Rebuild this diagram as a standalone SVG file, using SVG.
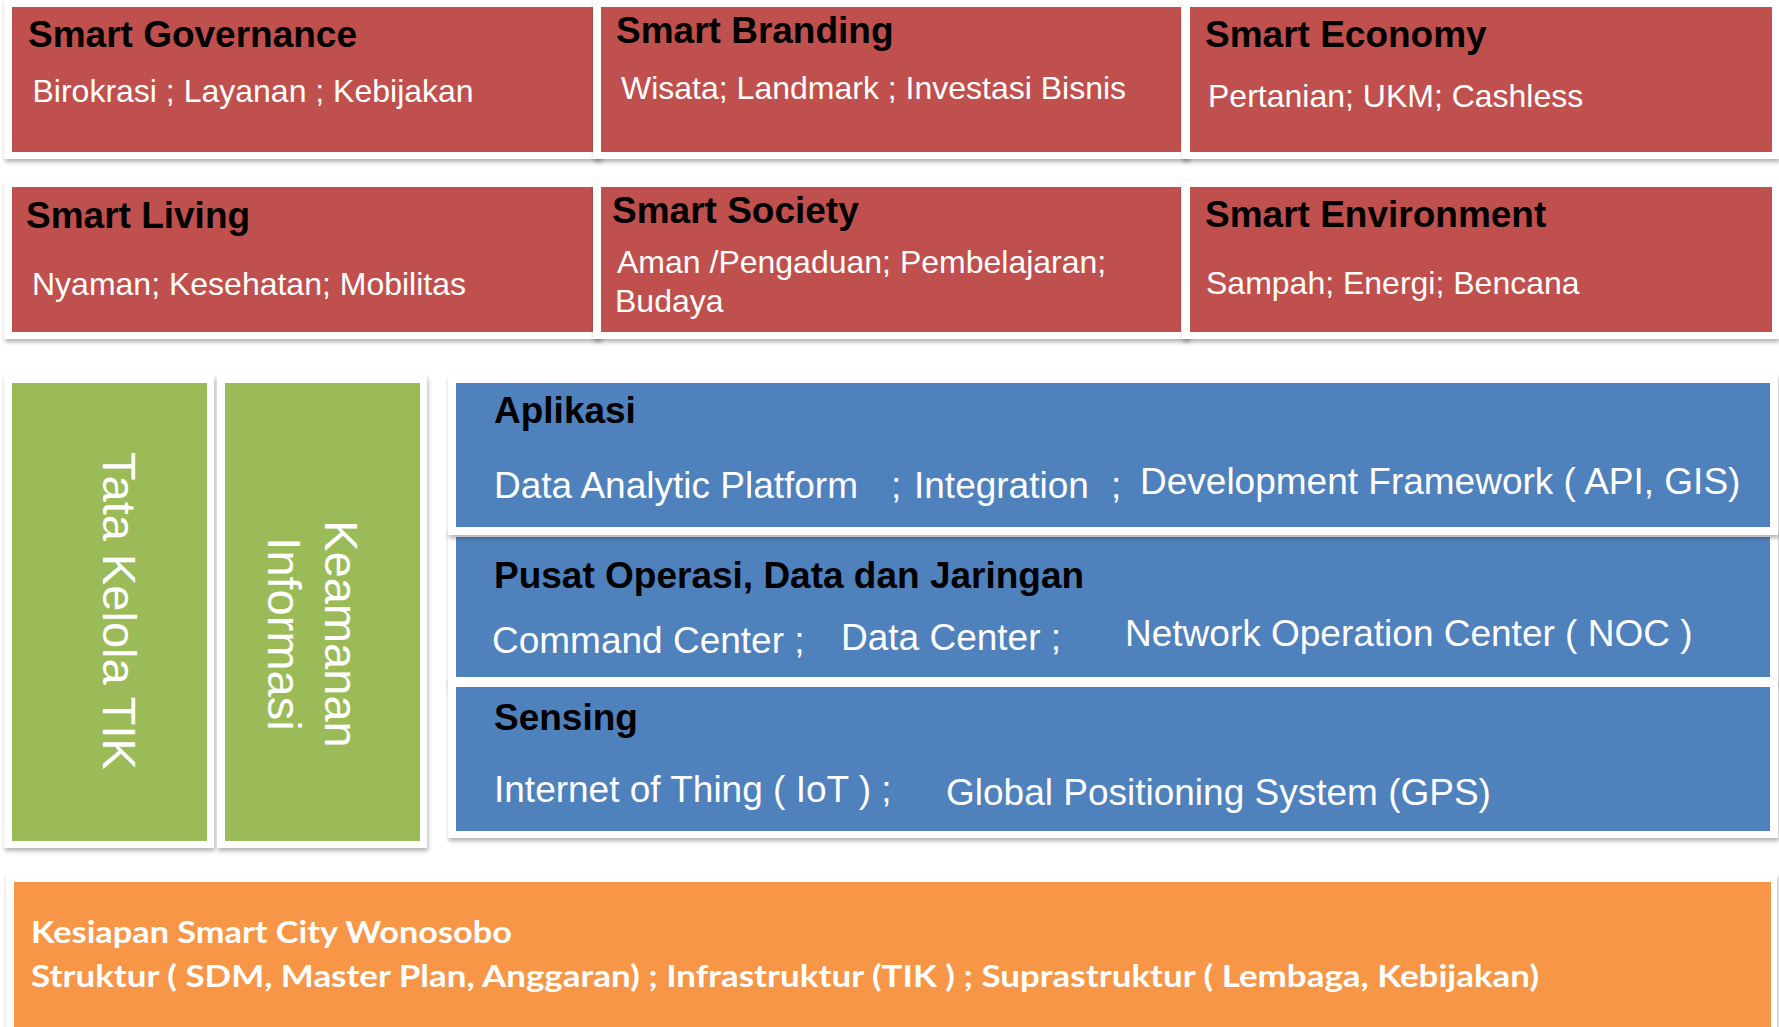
<svg xmlns="http://www.w3.org/2000/svg" width="1779" height="1027" viewBox="0 0 1779 1027">
<defs>
<filter id="sh" x="-5%" y="-10%" width="110%" height="130%">
<feDropShadow dx="1" dy="3" stdDeviation="2" flood-color="#000" flood-opacity="0.3"/>
</filter>
</defs>
<style>
.frame{fill:#ffffff;filter:url(#sh)}
.red{fill:#C0504D}
.green{fill:#9BBB59}
.blue{fill:#4F81BD}
.orange{fill:#F79646}
.title{font-family:"Liberation Sans",Arial,sans-serif;font-weight:bold;font-size:37px;fill:#000}
.item{font-family:"Liberation Sans",Arial,sans-serif;font-size:32px;fill:#fff}
.bitem{font-family:"Liberation Sans",Arial,sans-serif;font-size:37px;fill:#fff}
.vert{font-family:"Liberation Sans",Arial,sans-serif;font-size:47px;fill:#fff;text-anchor:middle}
.otext{font-family:Lato,"Open Sans",sans-serif;font-weight:bold;font-size:31px;fill:#fff}
</style>
<rect width="1779" height="1027" fill="#ffffff"/>

<g id="smart-governance">
<rect class="frame" x="4" y="-1" width="597" height="160"/>
<rect class="red" x="12" y="7" width="581" height="145"/>
<text class="title" x="28" y="47">Smart Governance</text>
<text class="item" x="32.5" y="102">Birokrasi ; Layanan ; Kebijakan</text>
</g>
<g id="smart-branding">
<rect class="frame" x="593" y="-1" width="596" height="160"/>
<rect class="red" x="601" y="7" width="580" height="145"/>
<text class="title" x="616" y="43">Smart Branding</text>
<text class="item" x="621" y="99">Wisata; Landmark ; Investasi Bisnis</text>
</g>
<g id="smart-economy">
<rect class="frame" x="1182" y="-1" width="597" height="160"/>
<rect class="red" x="1190" y="7" width="582" height="145"/>
<text class="title" x="1205" y="47">Smart Economy</text>
<text class="item" x="1208" y="107">Pertanian; UKM; Cashless</text>
</g>

<g id="smart-living">
<rect class="frame" x="4" y="180" width="597" height="159"/>
<rect class="red" x="12" y="187" width="581" height="145"/>
<text class="title" x="26" y="228">Smart Living</text>
<text class="item" x="32" y="295">Nyaman; Kesehatan; Mobilitas</text>
</g>
<g id="smart-society">
<rect class="frame" x="593" y="180" width="596" height="159"/>
<rect class="red" x="601" y="187" width="580" height="145"/>
<text class="title" x="612" y="223">Smart Society</text>
<text class="item" x="617" y="273">Aman /Pengaduan; Pembelajaran;</text>
<text class="item" x="615" y="312">Budaya</text>
</g>
<g id="smart-environment">
<rect class="frame" x="1182" y="180" width="597" height="159"/>
<rect class="red" x="1190" y="187" width="582" height="145"/>
<text class="title" x="1205" y="227">Smart Environment</text>
<text class="item" x="1206" y="294">Sampah; Energi; Bencana</text>
</g>

<g id="tata-kelola-tik">
<rect class="frame" x="4" y="375" width="210" height="473"/>
<rect class="green" x="12" y="383" width="195" height="458"/>
<text class="vert" transform="translate(103,611) rotate(90)">Tata Kelola TIK</text>
</g>
<g id="keamanan-informasi">
<rect class="frame" x="217" y="375" width="210" height="473"/>
<rect class="green" x="225" y="383" width="195" height="458"/>
<text class="vert" transform="translate(325,634) rotate(90)">Keamanan</text>
<text class="vert" transform="translate(268,634) rotate(90)">Informasi</text>
</g>

<g id="pusat-operasi">
<rect class="frame" x="448" y="529" width="1330" height="156"/>
<rect class="blue" x="456" y="537" width="1314" height="140"/>
<text class="title" x="494" y="588">Pusat Operasi, Data dan Jaringan</text>
<text class="bitem" x="492" y="653">Command Center ;</text>
<text class="bitem" x="841" y="650">Data Center ;</text>
<text class="bitem" x="1125" y="646">Network Operation Center ( NOC )</text>
</g>
<g id="sensing">
<rect class="frame" x="448" y="679" width="1330" height="159"/>
<rect class="blue" x="456" y="687" width="1314" height="144"/>
<text class="title" x="494" y="730">Sensing</text>
<text class="bitem" x="494" y="802">Internet of Thing ( IoT ) ;</text>
<text class="bitem" x="946" y="805">Global Positioning System (GPS)</text>
</g>
<g id="aplikasi">
<rect class="frame" x="448" y="375" width="1330" height="160"/>
<rect class="blue" x="456" y="383" width="1314" height="144"/>
<text class="title" x="494" y="423">Aplikasi</text>
<text class="bitem" x="494" y="498">Data Analytic Platform</text>
<text class="bitem" x="891" y="498">;</text>
<text class="bitem" x="914" y="498">Integration</text>
<text class="bitem" x="1111" y="498">;</text>
<text class="bitem" x="1140" y="494">Development Framework ( API, GIS)</text>
</g>

<g id="kesiapan-smart-city">
<rect class="frame" x="6" y="874" width="1771" height="170"/>
<rect class="orange" x="14" y="882" width="1757" height="160"/>
<text class="otext" x="31" y="943" textLength="481" lengthAdjust="spacingAndGlyphs">Kesiapan Smart City Wonosobo</text>
<text class="otext" x="31" y="987" textLength="1508" lengthAdjust="spacingAndGlyphs">Struktur ( SDM, Master Plan, Anggaran) ; Infrastruktur (TIK ) ; Suprastruktur ( Lembaga, Kebijakan)</text>
</g>

<g id="connectors"></g>
</svg>
